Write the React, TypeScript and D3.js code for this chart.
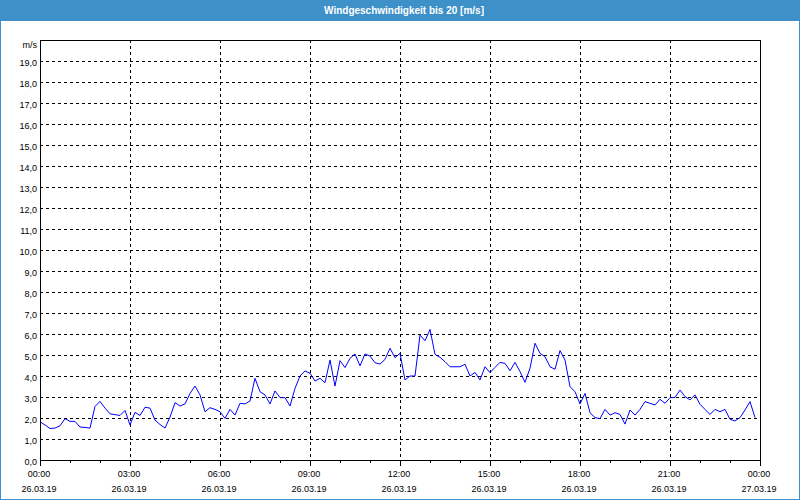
import React from "react";
import * as d3 from "d3";

const TITLE = "Windgeschwindigkeit bis 20 [m/s]";
const UNIT = "m/s";
const START = new Date(2019, 2, 26, 0, 0);
const END = new Date(2019, 2, 27, 0, 0);
const STEP_MIN = 10;
const Y_TICKS = d3.range(0, 20);
const X_MAJOR_HOURS = [0, 3, 6, 9, 12, 15, 18, 21, 24];
const X_MINOR_HOURS = d3.range(0, 25);

// wind speed in m/s every 10 minutes, from 00:00 on 26.03.19
const windSpeed = [
  1.82, 1.67, 1.5, 1.52, 1.63, 1.97, 1.84, 1.84, 1.57, 1.55,
  1.52, 2.55, 2.79, 2.47, 2.2, 2.16, 2.12, 2.36, 1.67, 2.27,
  2.12, 2.51, 2.47, 1.9, 1.69, 1.52, 2.04, 2.73, 2.57, 2.67,
  3.17, 3.52, 3.1, 2.3, 2.49, 2.41, 2.3, 1.98, 2.41, 2.14,
  2.7, 2.67, 2.81, 3.89, 3.25, 3.1, 2.67, 3.29, 2.97, 2.97,
  2.57, 3.41, 4.0, 4.24, 4.13, 3.76, 3.89, 3.68, 4.76, 3.52,
  4.73, 4.4, 4.84, 5.05, 4.48, 5.05, 4.95, 4.63, 4.57, 4.79,
  5.32, 4.87, 5.08, 3.81, 4.0, 4.0, 5.95, 5.68, 6.22, 5.03,
  4.89, 4.68, 4.44, 4.44, 4.44, 4.56, 4.0, 4.17, 3.81, 4.44,
  4.16, 4.41, 4.65, 4.6, 4.25, 4.65, 4.21, 3.7, 4.37, 5.56,
  5.08, 4.92, 4.44, 4.32, 5.21, 4.76, 3.49, 3.25, 2.67, 3.17,
  2.25, 2.02, 1.97, 2.41, 2.14, 2.25, 2.17, 1.71, 2.38, 2.14,
  2.41, 2.78, 2.7, 2.62, 2.89, 2.7, 2.97, 2.98, 3.33, 3.02,
  2.86, 3.1, 2.65, 2.41, 2.17, 2.41, 2.3, 2.41, 1.94, 1.86,
  2.02, 2.38, 2.78, 2.02,
];

const W = 800;
const H = 500;
const M = { left: 40, right: 40, top: 40, bottom: 40 };
const FONT = "'Liberation Sans', Arial, sans-serif";

export default function App() {
  const x = d3.scaleTime().domain([START, END]).range([M.left, W - M.right]);
  const y = d3.scaleLinear().domain([0, 20]).range([H - M.bottom, M.top]);

  const data = windSpeed.map((v, i) => ({
    t: d3.timeMinute.offset(START, i * STEP_MIN),
    v,
  }));

  const line = d3
    .line<{ t: Date; v: number }>()
    .x((d) => x(d.t))
    .y((d) => y(d.v));

  const fmtY = (v: number) => d3.format(".1f")(v).replace(".", ",");
  const fmtTime = d3.timeFormat("%H:%M");
  const fmtDate = d3.timeFormat("%d.%m.%y");
  const hourDate = (h: number) => d3.timeHour.offset(START, h);

  const x0 = M.left;
  const x1 = W - M.right;
  const y0 = H - M.bottom;
  const y1 = M.top;

  return (
    <svg
      width={W}
      height={H}
      style={{ position: "absolute", left: 0, top: 0, background: "#ffffff" }}
      fontFamily={FONT}
    >
      <rect x={0} y={0} width={W} height={H} fill="#ffffff" />
      {/* window border */}
      <rect x={0.5} y={0.5} width={W - 1} height={H - 1} fill="none" stroke="#3d90c8" />
      {/* title bar */}
      <rect x={0} y={0} width={W} height={21} fill="#3d90c8" />
      <text x={404} y={14} fill="#ffffff" fontSize={10} fontWeight="bold" textAnchor="middle">
        {TITLE}
      </text>

      {/* horizontal grid */}
      {Y_TICKS.filter((v) => v > 0).map((v) => (
        <line
          key={"hg" + v}
          x1={x0}
          x2={x1}
          y1={Math.round(y(v)) + 0.5}
          y2={Math.round(y(v)) + 0.5}
          stroke="#000"
          strokeDasharray="3,3"
        />
      ))}
      {/* vertical grid */}
      {X_MAJOR_HOURS.filter((h) => h > 0 && h < 24).map((h) => (
        <line
          key={"vg" + h}
          x1={Math.round(x(hourDate(h))) + 0.5}
          x2={Math.round(x(hourDate(h))) + 0.5}
          y1={y1}
          y2={y0 + 6}
          stroke="#000"
          strokeDasharray="3,3"
        />
      ))}
      {/* minor ticks */}
      {X_MINOR_HOURS.map((h) => (
        <line
          key={"mt" + h}
          x1={Math.round(x(hourDate(h))) + 0.5}
          x2={Math.round(x(hourDate(h))) + 0.5}
          y1={y0}
          y2={y0 + (h % 3 === 0 ? 6 : 3)}
          stroke="#000"
        />
      ))}

      {/* data line */}
      <path d={line(data) || ""} fill="none" stroke="#0000ff" strokeWidth={1} />

      {/* frame */}
      <rect
        x={x0 + 0.5}
        y={y1 + 0.5}
        width={x1 - x0}
        height={y0 - y1}
        fill="none"
        stroke="#000"
      />

      {/* y labels */}
      <text x={37} y={48} fontSize={9} textAnchor="end" fill="#000">
        {UNIT}
      </text>
      {Y_TICKS.map((v) => (
        <text key={"yl" + v} x={37} y={Math.round(y(v)) + 4.5} fontSize={9} textAnchor="end" fill="#000">
          {fmtY(v)}
        </text>
      ))}

      {/* x labels */}
      {X_MAJOR_HOURS.map((h) => {
        const d = hourDate(h);
        const px = x(d) - 1;
        return (
          <g key={"xl" + h}>
            <text x={px} y={477} fontSize={9} textAnchor="middle" fill="#000">
              {fmtTime(d)}
            </text>
            <text x={px} y={492} fontSize={9} textAnchor="middle" fill="#000">
              {fmtDate(d)}
            </text>
          </g>
        );
      })}
    </svg>
  );
}
